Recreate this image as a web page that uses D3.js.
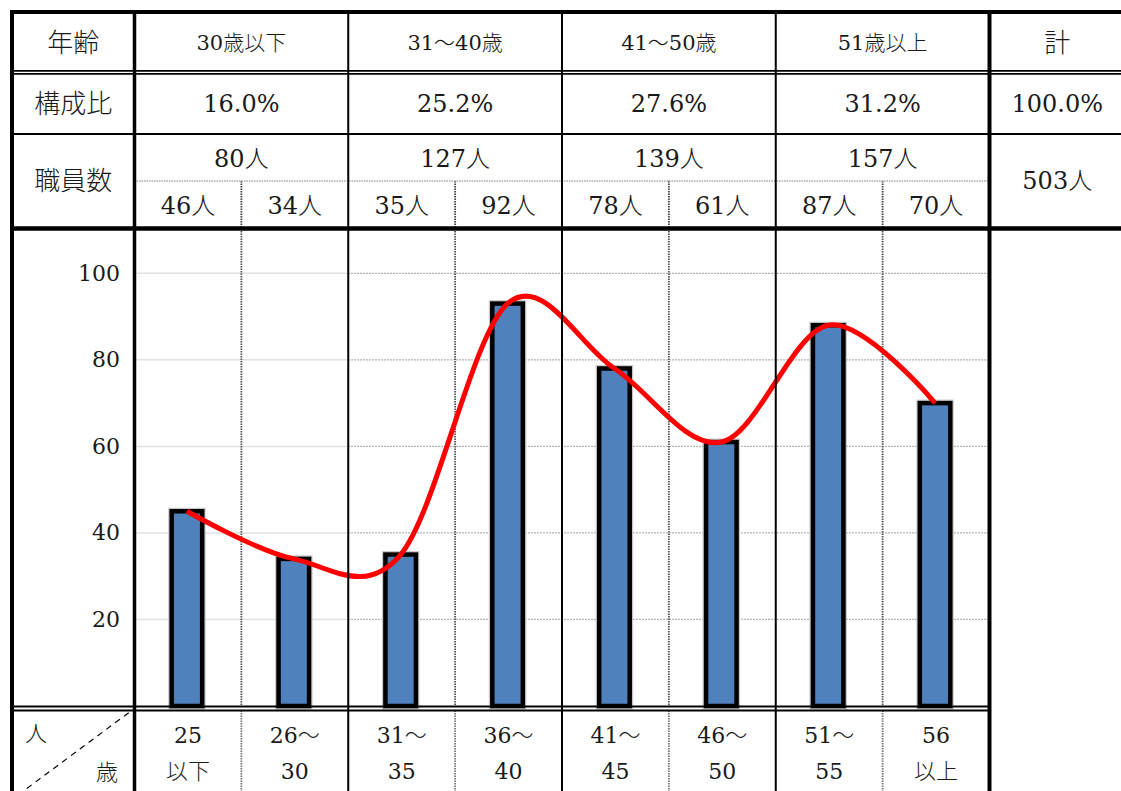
<!DOCTYPE html>
<html><head><meta charset="utf-8">
<script src="https://cdn.jsdelivr.net/npm/d3@7"></script>
<style>body{margin:0;background:#fff} svg{display:block}</style>
</head><body>
<svg id="c" width="1121" height="791"></svg>
<script>
// ---- data ----
const groups = ["30歳以下", "31～40歳", "41～50歳", "51歳以上"];
const groupShares = ["16.0%", "25.2%", "27.6%", "31.2%"];
const groupCounts = ["80人", "127人", "139人", "157人"];
const subCounts = ["46人", "34人", "35人", "92人", "78人", "61人", "87人", "70人"];
const ageTop = ["25", "26～", "31～", "36～", "41～", "46～", "51～", "56"];
const ageBottom = ["以下", "30", "35", "40", "45", "50", "55", "以上"];
const categories = ["25以下", "26～30", "31～35", "36～40", "41～45", "46～50", "51～55", "56以上"];
const barValues = [45, 34, 35, 93, 78, 61, 88, 70];
const yTicks = [20, 40, 60, 80, 100];
const rowHeads = ["年齢", "構成比", "職員数"];
const totalHead = "計", totalShare = "100.0%", totalCount = "503人";
const cornerTop = "人", cornerBottom = "歳";

// ---- layout ----
const svg = d3.select("#c");
const FONT = "'DejaVu Serif','Noto Sans CJK JP',serif";
const L = 12, C1 = 134.5, R = 989.5, W = 1121;
const yTop = 12, yR1 = 72.3, yR2 = 134, yR3d = 181, yR3 = 228.5, yAxis = 706.5, yAxis2 = 710.5, yBot = 791;

const x = d3.scaleBand().domain(categories).range([C1, R]).padding(0);
const y = d3.scaleLinear().domain([0, 100]).range([706, 273.3]);
const cx = d => x(d) + x.bandwidth() / 2 - 1;
const groupX = i => x(categories[i * 2]);
const groupC = i => x(categories[i * 2 + 1]);

function txt(t, px, py, size, anchor = "middle") {
  svg.append("text").attr("x", px).attr("y", py).attr("text-anchor", anchor)
    .attr("dominant-baseline", "central").attr("font-family", FONT)
    .attr("font-size", size).attr("font-weight", 300).attr("fill", "#1a1a1a").text(t);
}
function ln(x1, y1, x2, y2, w, col = "#000", dash = null) {
  const l = svg.append("line").attr("x1", x1).attr("y1", y1).attr("x2", x2).attr("y2", y2)
    .attr("stroke", col).attr("stroke-width", w);
  if (dash) l.attr("stroke-dasharray", dash);
  return l;
}

// ---- gridlines ----
const grid = svg.append("g");
yTicks.forEach(t => {
  grid.append("line").attr("x1", C1 + 2).attr("x2", groupX(1)).attr("y1", y(t)).attr("y2", y(t))
    .attr("stroke", "#e2e2e2").attr("stroke-width", 1.5);
  grid.append("line").attr("x1", groupX(1)).attr("x2", R).attr("y1", y(t)).attr("y2", y(t))
    .attr("stroke", "#9a9a9a").attr("stroke-width", 1.3).attr("stroke-dasharray", "1.5,1.5");
});

// ---- sub-column dotted lines (header sub-row, chart, bottom row) ----
categories.forEach((c, i) => {
  if (i % 2 === 1) {
    const xx = x(c);
    ln(xx, yR3d, xx, yR3, 1.8, "#444", "1.5,1");
    ln(xx, yR3, xx, yAxis, 1.8, "#555", "1.5,1");
    ln(xx, yAxis2, xx, yBot, 1.8, "#777", "1.5,1");
  }
});
// dotted horizontal in 職員数 row
ln(C1 + 2, yR3d, R, yR3d, 1.3, "#aaa", "1.5,1");

// ---- y axis labels ----
const axis = d3.axisLeft(y).tickValues(yTicks).tickSize(0).tickPadding(2);
const ag = svg.append("g").attr("transform", "translate(122,0)").call(axis);
ag.select(".domain").remove();
ag.selectAll("text").attr("font-family", FONT).attr("font-size", 22).attr("fill", "#1a1a1a");

// ---- bars ----
const bw = 30.5;
svg.append("g").selectAll("rect").data(barValues).join("rect")
  .attr("x", (d, i) => cx(categories[i]) - bw / 2).attr("width", bw)
  .attr("y", d => y(d)).attr("height", d => y(0) - y(d))
  .attr("fill", "none").attr("stroke", "#c8c8c8").attr("stroke-width", 7);
svg.append("g").selectAll("rect").data(barValues).join("rect")
  .attr("x", (d, i) => cx(categories[i]) - bw / 2).attr("width", bw)
  .attr("y", d => y(d)).attr("height", d => y(0) - y(d))
  .attr("fill", "#4f81bd").attr("stroke", "#000").attr("stroke-width", 4.5);

// ---- smooth line ----
const line = d3.line().x((d, i) => cx(categories[i])).y(d => y(d)).curve(d3.curveCardinal.tension(0));
svg.append("path").datum(barValues).attr("d", line)
  .attr("fill", "none").attr("stroke", "#ff0000").attr("stroke-width", 5);

// ---- table borders ----
ln(L - 2, yTop, W, yTop, 4);
ln(L, 70.8, W, 70.8, 1.7);
ln(L, 73.8, W, 73.8, 1.7);
ln(L, yR2, W, yR2, 2.2);
ln(L, yR3, W, yR3, 4.5);
ln(L, yAxis, R, yAxis, 2.2);
ln(L, yAxis2, R, yAxis2, 2.2);
ln(L, yTop - 2, L, yBot, 4);
ln(C1, yTop, C1, yBot, 3.5);
for (let i = 1; i < 4; i++) ln(groupX(i), yTop, groupX(i), yBot, 2);
ln(R, yTop, R, yBot, 4);

// ---- header texts ----
const r1c = (yTop + yR1) / 2 + 1, r2c = (yR1 + yR2) / 2 + 1;
txt(rowHeads[0], (L + C1) / 2, r1c, 26);
txt(rowHeads[1], (L + C1) / 2, r2c, 26);
txt(rowHeads[2], (L + C1) / 2, (yR2 + yR3) / 2, 26);
groups.forEach((g, i) => txt(g, groupC(i), r1c, 21));
groupShares.forEach((g, i) => txt(g, groupC(i), r2c, 24));
groupCounts.forEach((g, i) => txt(g, groupC(i), (yR2 + yR3d) / 2 + 1, 24));
subCounts.forEach((g, i) => txt(g, cx(categories[i]) + 1, (yR3d + yR3) / 2 + 1, 24));
txt(totalHead, (R + W) / 2 + 2, r1c, 26);
txt(totalShare, (R + W) / 2 + 2, r2c, 24);
txt(totalCount, (R + W) / 2 + 2, (yR2 + yR3) / 2, 24);

// ---- bottom row ----
ageTop.forEach((t, i) => txt(t, cx(categories[i]) + 1, 735, 22));
ageBottom.forEach((t, i) => txt(t, cx(categories[i]) + 1, 771, 22));
ln(18, 795, 131, 711, 1.2, "#000", "6,5");
txt(cornerTop, 36, 733, 22);
txt(cornerBottom, 107, 772, 22);
</script>
</body></html>
